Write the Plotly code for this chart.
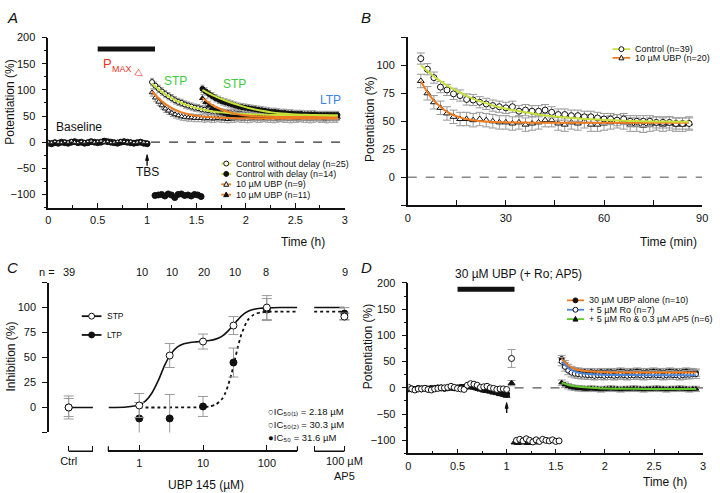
import plotly.graph_objects as go

W, H = 720, 493
FONT = "Liberation Sans, Arial, Helvetica, sans-serif"
BLACK = "#111111"
GREY = "#9a9a9a"
LIME = "#c6e23a"
ORANGE = "#f07c22"
BLUE = "#4d86d6"
GREEN = "#62c92a"


def P(px):
    return px / W


def Q(py):
    return 1 - py / H


def times(start, n, step=1 / 30):
    return [round(start + k * step, 4) for k in range(n)]


# ---------------- Panel A data ----------------
a_base_t = times(0.0, 31)
a_base_filled = [-2, -3, -1, -2, 0, -1, -2, 0, 1, -1, 0, -2, -1, 1, 0, -1, 0, 2, 1, 0,
                 -1, -2, 0, 1, 0, -1, -2, -1, 0, -2, -3]
a_base_open = [0, -1, 1, 0, -1, 1, 0, 2, 0, -1, 1, 0, 1, 2, 0, 1, 2, 0, 1, -1,
               0, 1, 2, 1, 0, 1, -1, 0, 1, 0, -1]
a_gap_t = times(1.08, 15)
a_gap_v = [-102, -101, -100, -103, -99, -101, -106, -100, -99, -102, -101, -103, -100, -101, -104]
a_ctl_t = times(1.05, 57)
a_ctl_v = [115, 108, 102, 97, 92, 88, 84, 80, 77, 75, 72, 70, 68, 66, 65, 63, 62, 61, 60, 59,
           58, 57, 56, 56, 55, 55, 54, 54, 53, 53, 53, 52, 52, 52, 53, 51, 52, 52, 51, 51,
           52, 51, 51, 52, 51, 51, 50, 51, 51, 50, 51, 50, 50, 51, 50, 50, 50]
a_ubp9_v = [95, 85, 77, 70, 64, 60, 56, 53, 51, 49, 48, 47, 47, 46, 46, 46, 45, 46, 45, 45,
            46, 45, 45, 44, 45, 45, 46, 45, 45, 44, 45, 46, 45, 45, 46, 45, 45, 44, 45, 46,
            45, 45, 44, 45, 45, 46, 45, 45, 44, 45, 46, 45, 45, 44, 45, 45, 45]
a_dly_t = times(1.56, 42)
a_dly_v = [102, 97, 92, 88, 84, 81, 78, 76, 74, 72, 70, 68, 67, 66, 65, 64, 63, 62, 61, 60,
           59, 58, 58, 57, 56, 56, 55, 55, 54, 54, 54, 53, 53, 53, 53, 52, 52, 52, 52, 52, 52, 52]
a_ubp11_v = [84, 76, 70, 65, 61, 58, 56, 54, 52, 51, 51, 50, 50, 49, 49, 49, 48, 49, 48, 48,
             49, 48, 48, 47, 48, 48, 49, 48, 48, 47, 48, 49, 48, 48, 49, 48, 48, 47, 48, 49, 48, 48]
a_err = 7
a_fit1_t = [1.05, 1.15, 1.25, 1.35, 1.45, 1.55, 1.65, 1.75, 1.85, 1.95, 2.1, 2.3, 2.5, 2.7, 2.93]
a_fit_ctl = [112, 96, 84, 75, 68, 63, 59, 57, 55, 54, 53, 52, 51.5, 51, 51]
a_fit_ubp9 = [97, 78, 65, 57, 52, 49, 47.5, 46.5, 46, 45.7, 45.5, 45.5, 45.5, 45.5, 45.5]
a_fit2_t = [1.56, 1.66, 1.76, 1.86, 1.96, 2.06, 2.16, 2.26, 2.36, 2.46, 2.56, 2.66, 2.76, 2.86, 2.93]
a_fit_dly = [100, 90, 82, 75, 69, 64, 60, 57, 55, 53.5, 52.5, 52, 51.5, 51.2, 51]
a_fit_ubp11 = [84, 71, 62, 56, 52, 50, 49, 48.5, 48.2, 48, 48, 48, 48, 48, 48]
a_xticks = [0, 0.5, 1, 1.5, 2, 2.5, 3]
a_xtext = ["0", "0.5", "1", "1.5", "2", "2.5", "3"]
a_yticks = [-100, -50, 0, 50, 100, 150, 200]

# ---------------- Panel B data ----------------
b_t = times(4, 42, 2)
b_ctl = [106, 96.5, 89, 80.5, 78, 74.5, 73, 69.5, 69, 67, 65.5, 64, 63, 62, 63, 59, 60, 59, 59, 60,
         58, 56, 56, 55, 55, 54, 54, 53, 52, 52, 51, 52, 50, 50, 50, 50, 49, 49, 49, 48, 48, 48]
b_ubp = [86, 75, 67, 62, 57, 54, 52, 52, 51, 52, 51, 50, 49, 49, 48, 49, 47, 48, 49, 51,
         51, 48, 47, 49, 48, 50, 47, 47, 48, 49, 50, 49, 47, 47, 46, 47, 48, 47, 48, 47, 47, 48]
b_ctl_err = 5
b_ubp_err = 6
b_fit_t = [4, 6, 8, 10, 12, 16, 20, 24, 28, 32, 36, 40, 44, 48, 52, 56, 60, 66, 72, 78, 86]
b_fit_ctl = [100, 95, 90, 86, 82, 75.5, 70, 66, 62.5, 60, 58, 56, 54.5, 53.5, 52.5, 51.8, 51.2,
             50.5, 50, 49.7, 49.5]
b_fit_ubp = [86, 76, 68.5, 63, 58.5, 53.5, 51, 49.8, 49.2, 48.9, 48.8, 48.7, 48.6, 48.6, 48.6,
             48.6, 48.6, 48.6, 48.6, 48.6, 48.6]
b_xticks = [0, 30, 60, 90]
b_yticks = [0, 25, 50, 75, 100]

# ---------------- Panel C data ----------------
c_conc = [1, 3, 10, 30, 100]
c_stp = [2, 52, 66, 82, 100]
c_stp_err = [12, 12, 7.5, 9, 12]
c_ltp = [-11, -11, 1, 45, 98]
c_ltp_err = [16, 24, 10, 14.5, 11]
c_ctrl_stp, c_ctrl_stp_err = [0], [11.5]
c_ctrl_ltp, c_ctrl_ltp_err = [0], [9]
c_ap5_stp, c_ap5_stp_err = [91], [3.5]
c_ap5_ltp, c_ap5_ltp_err = [94], [6]
c_ctrl_pos = [0]
c_ap5_pos = [1]
c_seg = [0, 1]
c_ctrl_fit = [0, 0]
c_ap5_fit_stp = [100, 100]
c_ap5_fit_ltp = [96, 96]
c_fit_conc = [0.33, 0.63, 1, 1.26, 1.58, 2, 2.5, 3.16, 3.98, 5, 6.3, 7.9, 10, 12.6, 15.8, 20, 25,
              31.6, 39.8, 50, 63, 79, 100, 158, 300]
c_fit_stp = [0, 0.5, 2.8, 6.6, 14.5, 27.3, 42.2, 53.9, 60.6, 63.7, 65.1, 65.7, 66.4, 67, 68.4,
             71.4, 76.9, 84.5, 91.5, 96, 98.3, 99.3, 99.7, 100, 100]
c_fit_ltp_conc = [1, 3.16, 10, 12.6, 15.8, 20, 22.4, 25, 28.2, 31.6, 35.5, 39.8, 50, 63, 79, 100,
                  158, 300]
c_fit_ltp = [0, 0, 0.3, 1, 2.9, 8.7, 14.5, 23.1, 34.5, 48, 61.5, 72.9, 87.3, 93.1, 95, 95.7, 96, 96]
c_n_labels = ["39", "10", "10", "20", "10", "8", "9"]

# ---------------- Panel D data ----------------
d_base_t = times(0.0, 31)
d_base_open = [1, -2, -4, -2, -2, -1, -3, -4, -2, -1, 0, 0, 1, 3, 1, -1, -2, -3, 5, 8,
               7, 5, 1, 2, 3, 0, -1, -3, -2, -2, -3]
d_base_tri = [-4, -3, -3, -2, -2, -2, -3, -2, -2, -1, -1, -1, 0, 0, -1, -1, 0, 1, 2, 2,
              1, -1, -3, -5, -6, -7, -9, -10, -12, -13, -15]
d_base_filled = [-2, -2, -3, -1, -2, -1, -2, -1, -1, 0, 0, -1, 0, 1, 0, 0, 1, 1, 3, 3,
                 2, 0, -1, -3, -4, -5, -6, -8, -9, -11, -12]
d_tbs_t = [1.05]
d_tbs_ro, d_tbs_ro_err = [56], [17]
d_tbs_ap5, d_tbs_ap5_err = [9], [5]
d_gap_open_t = times(1.1, 14)
d_gap_open = [-100, -98, -101, -97, -100, -103, -99, -102, -98, -100, -101, -99, -102, -101]
d_gap_fill_t = times(1.08, 8)
d_gap_fill = [-104, -105, -103, -104, -105, -104, -103, -104]
d_post_t = times(1.56, 42)
d_ubp = [55, 45, 38, 34, 32, 31, 30, 30, 29, 30, 29, 29, 30, 29, 30, 30, 29, 30, 31, 30,
         29, 30, 30, 31, 30, 29, 30, 30, 31, 30, 30, 29, 30, 31, 30, 30, 29, 30, 31, 30, 30, 29]
d_ro = [50, 40, 33, 29, 27, 26, 25, 25, 24, 24, 23, 24, 24, 23, 24, 24, 23, 24, 25, 24,
        23, 24, 24, 25, 24, 23, 24, 24, 25, 24, 24, 23, 24, 25, 24, 24, 23, 24, 25, 25, 26, 26]
d_ap5 = [10, 6, 3, 1, 0, -1, -1, -2, -2, -1, -2, -2, -3, -2, -2, -1, -2, -2, -3, -2,
         -2, -2, -1, -2, -2, -3, -2, -2, -2, -1, -2, -2, -3, -2, -2, -2, -1, -2, -2, -3, -2, -2]
d_ubp_err, d_ro_err, d_ap5_err = 7, 8, 5
d_fit_t = [1.56, 1.62, 1.68, 1.76, 1.86, 1.96, 2.1, 2.3, 2.5, 2.7, 2.93]
d_fit_ubp = [55, 44, 37, 33, 31, 30, 29.5, 29.3, 29.2, 29.2, 29.2]
d_fit_ro = [50, 39, 32, 28, 26, 25, 24.5, 24.3, 24.2, 24.2, 24.2]
d_fit_ap5 = [10, 6, 3.5, 1.5, 0, -1, -1.6, -1.9, -2, -2, -2]

fig = go.Figure()


def pts(x, y, xa, ya, symbol, filled, size, err=None, ew=2, clip=True):
    ed = None
    if err is not None:
        if isinstance(err, (list, tuple)):
            ed = dict(type="data", array=err, visible=True, color=GREY, thickness=1, width=ew)
        else:
            ed = dict(type="constant", value=err, visible=True, color=GREY, thickness=1, width=ew)
    fig.add_trace(go.Scatter(
        x=x, y=y, xaxis=xa, yaxis=ya, mode="markers", showlegend=False, hoverinfo="skip",
        cliponaxis=clip,
        marker=dict(symbol=symbol, size=size, color=BLACK if filled else "white",
                    line=dict(color=BLACK, width=1)),
        error_y=ed))


def fit(x, y, xa, ya, color, width=2, dash="solid"):
    fig.add_trace(go.Scatter(
        x=x, y=y, xaxis=xa, yaxis=ya, mode="lines", showlegend=False, hoverinfo="skip",
        line=dict(color=color, width=width, dash=dash, shape="spline", smoothing=0.6)))


# ---- Panel A traces
pts(a_base_t, a_base_filled, "x", "y", "circle", True, 6)
pts(a_base_t, a_base_open, "x", "y", "triangle-up", False, 4)
pts(a_gap_t, a_gap_v, "x", "y", "circle", True, 6)
pts(a_ctl_t, a_ubp9_v, "x", "y", "triangle-up", False, 5, a_err)
pts(a_ctl_t, a_ctl_v, "x", "y", "circle", False, 5, a_err)
pts(a_dly_t, a_ubp11_v, "x", "y", "triangle-up", True, 5, a_err)
pts(a_dly_t, a_dly_v, "x", "y", "circle", True, 5, a_err)
fit(a_fit1_t, a_fit_ubp9, "x", "y", ORANGE)
fit(a_fit1_t, a_fit_ctl, "x", "y", LIME)
fit(a_fit2_t, a_fit_ubp11, "x", "y", ORANGE)
fit(a_fit2_t, a_fit_dly, "x", "y", LIME)

# ---- Panel B traces
pts(b_t, b_ubp, "x2", "y2", "triangle-up", False, 6, b_ubp_err, 4)
pts(b_t, b_ctl, "x2", "y2", "circle", False, 6, b_ctl_err, 4)
fit(b_fit_t, b_fit_ubp, "x2", "y2", ORANGE)
fit(b_fit_t, b_fit_ctl, "x2", "y2", LIME)

# ---- Panel C traces
fit(c_seg, c_ctrl_fit, "x3", "y3", BLACK, 1.6)
fit(c_seg, c_ap5_fit_stp, "x5", "y3", BLACK, 1.6)
fit(c_seg, c_ap5_fit_ltp, "x5", "y3", BLACK, 1.8, "dot")
fit(c_fit_ltp_conc, c_fit_ltp, "x4", "y3", BLACK, 1.8, "dot")
fit(c_fit_conc, c_fit_stp, "x4", "y3", BLACK, 1.6)
pts(c_ctrl_pos, c_ctrl_ltp, "x3", "y3", "circle", True, 7, c_ctrl_ltp_err, 5)
pts(c_ctrl_pos, c_ctrl_stp, "x3", "y3", "circle", False, 7, c_ctrl_stp_err, 5)
pts(c_conc, c_ltp, "x4", "y3", "circle", True, 7, c_ltp_err, 5)
pts(c_conc, c_stp, "x4", "y3", "circle", False, 7, c_stp_err, 5)
pts(c_ap5_pos, c_ap5_ltp, "x5", "y3", "circle", True, 7, c_ap5_ltp_err, 5)
pts(c_ap5_pos, c_ap5_stp, "x5", "y3", "circle", False, 7, c_ap5_stp_err, 5)

# ---- Panel D traces
pts(d_base_t, d_base_filled, "x6", "y4", "circle", True, 6)
pts(d_base_t, d_base_tri, "x6", "y4", "triangle-up", True, 6)
pts(d_base_t, d_base_open, "x6", "y4", "circle", False, 6)
pts(d_tbs_t, d_tbs_ro, "x6", "y4", "circle", False, 6, d_tbs_ro_err, 4)
pts(d_tbs_t, d_tbs_ap5, "x6", "y4", "triangle-up", True, 6, d_tbs_ap5_err, 4)
pts(d_gap_fill_t, d_gap_fill, "x6", "y4", "triangle-up", True, 6)
pts(d_gap_open_t, d_gap_open, "x6", "y4", "circle", False, 6)
pts(d_post_t, d_ap5, "x6", "y4", "triangle-up", True, 5, d_ap5_err, 4)
pts(d_post_t, d_ubp, "x6", "y4", "circle", True, 5, d_ubp_err, 4)
pts(d_post_t, d_ro, "x6", "y4", "circle", False, 5, d_ro_err, 4)
fit(d_fit_t, d_fit_ap5, "x6", "y4", GREEN)
fit(d_fit_t, d_fit_ubp, "x6", "y4", ORANGE)
fit(d_fit_t, d_fit_ro, "x6", "y4", BLUE)

# ---------------- layout ----------------
TF = dict(family=FONT, size=11, color=BLACK)
base = dict(showgrid=False, zeroline=False, showline=True, linecolor=BLACK, linewidth=1.5,
            tickfont=TF, tickcolor=BLACK, tickwidth=1.2)
bx = dict(base, ticklabelstandoff=2)
by = dict(base, ticklabelstandoff=4)
minor_x = dict(dtick=0.25, ticks="inside", ticklen=3, tickcolor=BLACK, showgrid=False)
minor_y = dict(dtick=25, ticks="outside", ticklen=3, tickcolor=BLACK, showgrid=False)
minor_x15 = dict(dtick=15, ticks="inside", ticklen=5, tickcolor=BLACK, tickwidth=1.2, showgrid=False)
minor_y25 = dict(dtick=25, tick0=0, ticks="outside", ticklen=5, tickcolor=BLACK, tickwidth=1.2,
                 showgrid=False)
minor_1 = dict(dtick=1, tick0=0, ticks="inside", ticklen=5, tickcolor=BLACK, tickwidth=1.2,
               showgrid=False)

shapes = []
annotations = []


def txt(x, y, text, size=11, color=BLACK, xanchor="center", yanchor="middle", angle=0, style="normal"):
    annotations.append(dict(xref="paper", yref="paper", x=P(x), y=Q(y), text=text, showarrow=False,
                            xanchor=xanchor, yanchor=yanchor, textangle=angle,
                            font=dict(family=FONT, size=size, color=color, style=style)))


def marker_shape(cx, cy, r, symbol, filled):
    fc = BLACK if filled else "white"
    if symbol == "circle":
        shapes.append(dict(type="circle", xref="paper", yref="paper", x0=P(cx - r), x1=P(cx + r),
                           y0=Q(cy + r), y1=Q(cy - r), fillcolor=fc, line=dict(color=BLACK, width=1)))
    else:
        path = (f"M {P(cx - r)},{Q(cy + r * 0.8)} L {P(cx + r)},{Q(cy + r * 0.8)} "
                f"L {P(cx)},{Q(cy - r * 1.1)} Z")
        shapes.append(dict(type="path", xref="paper", yref="paper", path=path, fillcolor=fc,
                           line=dict(color=BLACK, width=1)))


def legend_item(x0, x1, y, color, symbol, filled, label, tx, size=9, r=2.5):
    shapes.append(dict(type="line", xref="paper", yref="paper", x0=P(x0), x1=P(x1), y0=Q(y), y1=Q(y),
                       line=dict(color=color, width=1.8)))
    marker_shape((x0 + x1) / 2, y, r, symbol, filled)
    txt(tx, y, label, size=size, xanchor="left")


def up_arrow(xref, yref, x, y_tail, y_head, half_w, head_len):
    shapes.append(dict(type="line", xref=xref, yref=yref, x0=x, x1=x, y0=y_tail, y1=y_head - head_len * 0.5,
                       line=dict(color=BLACK, width=1.4)))
    path = (f"M {x - half_w},{y_head - head_len} L {x + half_w},{y_head - head_len} "
            f"L {x},{y_head} Z")
    shapes.append(dict(type="path", xref=xref, yref=yref, path=path, fillcolor=BLACK,
                       line=dict(color=BLACK, width=1)))


def vtick(px, py, length=5):
    shapes.append(dict(type="line", xref="paper", yref="paper", x0=P(px), x1=P(px), y0=Q(py),
                       y1=Q(py - length), line=dict(color=BLACK, width=1.2)))


# Panel A decorations
shapes.append(dict(type="line", xref="x", yref="y", x0=0.5, x1=1.08, y0=178, y1=178,
                   line=dict(color=BLACK, width=5)))
shapes.append(dict(type="line", xref="x", yref="y", x0=1.04, x1=3, y0=0, y1=0,
                   line=dict(color="#333333", width=1.2, dash="dash"), layer="below"))
txt(113, 58, "P", size=13, color="#e8321e", xanchor="right")
txt(109, 64, "MAX", size=9, color="#e8321e", xanchor="left")
txt(139, 68, "▷", size=10, color="#e8321e", angle=35)
txt(175, 76, "STP", size=12, color="#3ec93e")
txt(235, 79, "STP", size=12, color="#3ec93e")
txt(333, 95, "LTP", size=12, color="#3b83e6")
txt(52, 122, "Baseline", size=12, xanchor="left")
txt(147, 168, "TBS", size=12)
up_arrow("x", "y", 1.0, -45, -24, 0.015, 11)
legend_item(221.7, 231.7, 159.5, LIME, "circle", False, "Control without delay (n=25)", 235)
legend_item(221.7, 231.7, 170, LIME, "circle", True, "Control with delay (n=14)", 235)
legend_item(221.7, 231.7, 180.5, ORANGE, "triangle", False, "10 µM UBP (n=9)", 235)
legend_item(221.7, 231.7, 191, ORANGE, "triangle", True, "10 µM UBP (n=11)", 235)
txt(7, 97, "Potentiation (%)", size=12, angle=-90)
txt(305, 239, "Time (h)", size=12)
txt(2, 1, "A", size=15, xanchor="left", yanchor="top", style="italic")

# Panel B decorations
shapes.append(dict(type="line", xref="x2", yref="y2", x0=0, x1=90, y0=0, y1=0,
                   line=dict(color="#888888", width=1.5, dash="dash"), layer="below"))
legend_item(619, 637, 43.7, LIME, "circle", False, "Control (n=39)", 640)
legend_item(619, 637, 52.5, ORANGE, "triangle", False, "10 µM UBP (n=20)", 640)
txt(372, 115, "Potentiation (%)", size=12, angle=-90)
txt(676, 239, "Time (min)", size=12)
txt(362, 1, "B", size=15, xanchor="left", yanchor="top", style="italic")

# Panel C decorations
shapes.append(dict(type="line", xref="x3", yref="paper", x0=0, x1=1, y0=Q(450.7), y1=Q(450.7),
                   line=dict(color=BLACK, width=1.5)))
shapes.append(dict(type="line", xref="x5", yref="paper", x0=0, x1=1, y0=Q(450.7), y1=Q(450.7),
                   line=dict(color=BLACK, width=1.5)))
vtick(107, 450.7)
vtick(299, 450.7)
txt(45, 269, "n =", size=11)
for lab, xp in zip(c_n_labels, [67, 141, 172, 204, 236, 267, 347]):
    txt(xp, 269, lab, size=11)
legend_item(80, 100, 314, BLACK, "circle", False, "STP", 104, size=8.5, r=3)
legend_item(80, 100, 333, BLACK, "circle", True, "LTP", 104, size=8.5, r=3)
txt(267, 411, "○IC₅₀₍₁₎ = 2.18 µM", size=9.5, xanchor="left")
txt(267, 424, "○IC₅₀₍₂₎ = 30.3 µM", size=9.5, xanchor="left")
txt(267, 437, "●IC₅₀ = 31.6 µM", size=9.5, xanchor="left")
txt(8, 355, "Inhibition (%)", size=12, angle=-90)
txt(206, 485, "UBP 145 (µM)", size=12)
txt(2, 254, "C", size=15, xanchor="left", yanchor="top", style="italic")

# Panel D decorations
shapes.append(dict(type="line", xref="x6", yref="y4", x0=0.5, x1=1.08, y0=188, y1=188,
                   line=dict(color=BLACK, width=5)))
shapes.append(dict(type="line", xref="x6", yref="y4", x0=1.08, x1=3, y0=0, y1=0,
                   line=dict(color="#555555", width=1.2, dash="dash"), layer="below"))
up_arrow("x6", "y4", 1.0, -48, -28, 0.015, 11)
txt(524, 271, "30 µM UBP (+ Ro; AP5)", size=12)
legend_item(572.7, 590, 298, ORANGE, "circle", True, "30 µM UBP alone (n=10)", 593)
legend_item(572.7, 590, 307.5, BLUE, "circle", False, "+ 5 µM Ro (n=7)", 593)
legend_item(572.7, 590, 317, GREEN, "triangle", True, "+ 5 µM Ro & 0.3 µM AP5 (n=6)", 593)
txt(370, 345, "Potentiation (%)", size=12, angle=-90)
txt(672, 482, "Time (h)", size=12)
txt(362, 254, "D", size=15, xanchor="left", yanchor="top", style="italic")

fig.update_layout(
    width=W, height=H, margin=dict(l=0, r=0, t=0, b=0, pad=0),
    paper_bgcolor="white", plot_bgcolor="white", showlegend=False,
    font=dict(family=FONT, size=11, color=BLACK),
    xaxis=dict(bx, domain=[P(46), P(347)], range=[0, 3], anchor="y", ticks="inside", ticklen=5,
               tickmode="array", tickvals=a_xticks, ticktext=a_xtext, minor=minor_x),
    yaxis=dict(by, domain=[Q(204), Q(32)], range=[-125, 200], anchor="x", ticks="outside",
               ticklen=5, tickmode="array", tickvals=a_yticks, minor=minor_y),
    xaxis2=dict(bx, domain=[P(411), P(710)], range=[0, 90], anchor="y2", ticks="inside", ticklen=5,
                tickmode="array", tickvals=b_xticks, minor=minor_x15),
    yaxis2=dict(by, domain=[Q(201.7), Q(31.7)], range=[-25, 125], anchor="x2", ticks="outside",
                ticklen=5, tickmode="array", tickvals=b_yticks, minor=minor_y25),
    xaxis3=dict(bx, showline=False, domain=[P(56), P(102)], range=[-0.435, 1.435], anchor="free",
                position=Q(450.7), ticks="inside", ticklen=5, tickmode="array", tickvals=[0],
                ticktext=["Ctrl"], minor=minor_1),
    xaxis4=dict(bx, type="log", domain=[P(107), P(299)], range=[-0.484, 2.48], anchor="free",
                position=Q(450.7), ticks="inside", ticklen=5, tickmode="array",
                tickvals=[1, 10, 100], ticktext=["1", "10", "100"]),
    xaxis5=dict(bx, showline=False, domain=[P(306), P(357)], range=[-0.326, 1.336], anchor="free",
                position=Q(450.7), ticks="inside", ticklen=5, tickmode="array", tickvals=[1],
                ticktext=["100 µM<br>AP5"], minor=minor_1),
    yaxis3=dict(by, domain=[Q(431.7), Q(280)], range=[-25, 125], anchor="free", position=P(45.7),
                ticks="outside", ticklen=5, tickmode="array", tickvals=b_yticks, minor=minor_y25),
    xaxis6=dict(bx, domain=[P(411.7), P(711)], range=[0, 3], anchor="y4", ticks="inside", ticklen=5,
                tickmode="array", tickvals=a_xticks, ticktext=a_xtext, minor=minor_x),
    yaxis4=dict(by, domain=[Q(453), Q(280.3)], range=[-125, 200], anchor="x6", ticks="outside",
                ticklen=5, tickmode="array", tickvals=a_yticks, minor=minor_y),
    shapes=shapes,
    annotations=annotations,
)

fig.write_html("out.html", config={"displayModeBar": False},
               post_script="document.body.style.margin='0';")
